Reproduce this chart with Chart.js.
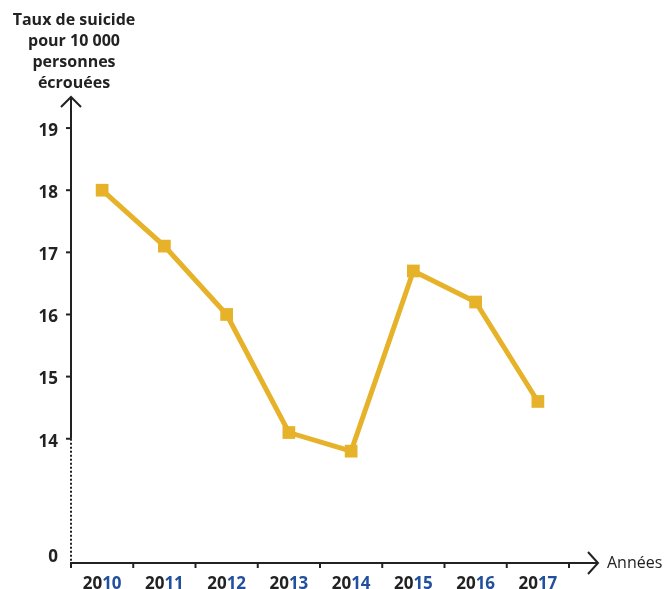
<!DOCTYPE html>
<html>
<head>
<meta charset="utf-8">
<script src="https://cdn.jsdelivr.net/npm/chart.js@4.4.0/dist/chart.umd.min.js"></script>
<style>
  html, body { margin: 0; padding: 0; background: #fff; }
</style>
</head>
<body>
<canvas id="suicideChart" width="670" height="589"></canvas>
<script>
const years = ["2010", "2011", "2012", "2013", "2014", "2015", "2016", "2017"];
const rates = [18.0, 17.1, 16.0, 14.1, 13.8, 16.7, 16.2, 14.6];
// the axis is broken between 0 and 14: "0" sits where 12 would be
const yTickValues = [12, 14, 15, 16, 17, 18, 19];
const yTickLabels = ["0", "14", "15", "16", "17", "18", "19"];
const yTitleLines = ["Taux de suicide", "pour 10 000", "personnes", "écrouées"];
const xTitle = "Années";

const ink = "#222222";
const blue = "#22509d";
const gold = "#E6B22A";
const font = "'Open Sans', Lato, sans-serif";

const axesPlugin = {
  id: "axesPlugin",
  beforeDatasetsDraw(chart) {
    const ctx = chart.ctx;
    const x = chart.scales.x;
    const y = chart.scales.y;
    const left = chart.chartArea.left;
    const top = chart.chartArea.top;
    const bottom = chart.chartArea.bottom;
    const right = chart.chartArea.right;
    const breakY = y.getPixelForValue(14);

    ctx.save();
    ctx.strokeStyle = ink;
    ctx.lineWidth = 2;
    ctx.lineCap = "butt";

    // y axis solid part + arrow
    ctx.beginPath();
    ctx.moveTo(left, top);
    ctx.lineTo(left, breakY);
    ctx.stroke();
    ctx.beginPath();
    ctx.moveTo(left - 10, top + 10);
    ctx.lineTo(left, top);
    ctx.lineTo(left + 10, top + 10);
    ctx.stroke();

    // dotted part of y axis (scale break)
    ctx.setLineDash([2, 2]);
    ctx.beginPath();
    ctx.moveTo(left, breakY);
    ctx.lineTo(left, bottom);
    ctx.stroke();
    ctx.setLineDash([]);

    // x axis + arrow
    const xEnd = right + 29;
    ctx.beginPath();
    ctx.moveTo(left - 1, bottom);
    ctx.lineTo(xEnd, bottom);
    ctx.stroke();
    ctx.beginPath();
    ctx.moveTo(xEnd - 10, bottom - 11);
    ctx.lineTo(xEnd, bottom);
    ctx.lineTo(xEnd - 10, bottom + 11);
    ctx.stroke();

    // y ticks and labels
    ctx.font = "bold 17px " + font;
    ctx.fillStyle = ink;
    ctx.textAlign = "right";
    ctx.textBaseline = "middle";
    yTickValues.forEach(function (v, i) {
      const py = y.getPixelForValue(v);
      if (v !== 12) {
        ctx.beginPath();
        ctx.moveTo(left - 5, py);
        ctx.lineTo(left, py);
        ctx.stroke();
      }
      ctx.fillText(yTickLabels[i], left - 13, v === 12 ? py - 6 : py + 3);
    });

    // x ticks at category boundaries
    for (let i = 0; i <= years.length; i++) {
      const px = i === 0 ? left : x.getPixelForValue(i - 0.5);
      ctx.beginPath();
      ctx.moveTo(px, bottom);
      ctx.lineTo(px, bottom + 5);
      ctx.stroke();
    }

    // x labels: "20" in black, last two digits in blue
    ctx.font = "bold 17px " + font;
    ctx.textAlign = "left";
    years.forEach(function (yr, i) {
      const cx = x.getPixelForValue(i);
      const head = yr.slice(0, 2);
      const tail = yr.slice(2);
      const w = ctx.measureText(yr).width;
      const start = cx - w / 2;
      ctx.fillStyle = ink;
      ctx.fillText(head, start, bottom + 21);
      ctx.fillStyle = blue;
      ctx.fillText(tail, start + ctx.measureText(head).width, bottom + 21);
    });

    // x title
    ctx.font = "16px " + font;
    ctx.fillStyle = ink;
    ctx.fillText(xTitle, xEnd + 9, bottom);

    // y title
    ctx.font = "bold 16px " + font;
    ctx.textAlign = "center";
    yTitleLines.forEach(function (line, i) {
      ctx.fillText(line, 74, 20 + i * 21);
    });

    ctx.restore();
  }
};

new Chart(document.getElementById("suicideChart"), {
  type: "line",
  data: {
    labels: years,
    datasets: [
      {
        label: "Taux de suicide",
        data: rates,
        borderColor: gold,
        backgroundColor: gold,
        borderWidth: 5,
        tension: 0,
        fill: false,
        pointStyle: "rect",
        pointRadius: 9,
        pointBorderWidth: 0,
        pointBackgroundColor: gold,
        clip: false,
      },
    ],
  },
  options: {
    responsive: false,
    animation: false,
    layout: {
      padding: { left: 71, right: 101, top: 97, bottom: 26 },
    },
    plugins: {
      legend: { display: false },
      tooltip: { enabled: false },
    },
    scales: {
      x: {
        type: "category",
        offset: true,
        display: false,
      },
      y: {
        min: 12,
        max: 19.5,
        display: false,
      },
    },
  },
  plugins: [axesPlugin],
});
</script>
</body>
</html>
